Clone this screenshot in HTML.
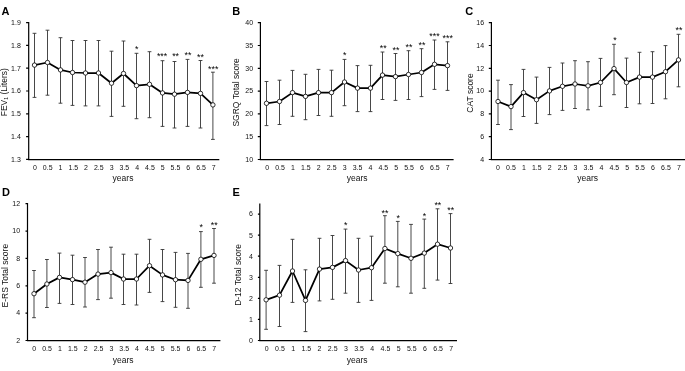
<!DOCTYPE html>
<html><head><meta charset="utf-8"><title>Figure</title>
<style>html,body{margin:0;padding:0;background:#fff;}body{width:685px;height:371px;overflow:hidden;font-family:"Liberation Sans",sans-serif;}svg{display:block;will-change:transform;}</style>
</head><body>
<svg width="685" height="371" viewBox="0 0 685 371" font-family="'Liberation Sans', sans-serif" fill="#111">
<rect width="685" height="371" fill="#fff"/>
<g>
<text x="1.6" y="15.0" font-size="11.0" font-weight="bold" fill="#000">A</text>
<path d="M34.50 33.30V97.40M32.60 33.30H36.40M32.60 97.40H36.40M47.50 30.20V95.20M45.60 30.20H49.40M45.60 95.20H49.40M60.50 37.70V103.20M58.60 37.70H62.40M58.60 103.20H62.40M72.50 40.50V105.40M70.60 40.50H74.40M70.60 105.40H74.40M85.50 40.50V105.90M83.60 40.50H87.40M83.60 105.90H87.40M98.50 40.50V105.90M96.60 40.50H100.40M96.60 105.90H100.40M111.50 51.20V116.40M109.60 51.20H113.40M109.60 116.40H113.40M123.50 41.00V106.30M121.60 41.00H125.40M121.60 106.30H125.40M136.50 53.30V118.70M134.60 53.30H138.40M134.60 118.70H138.40M149.50 51.70V117.70M147.60 51.70H151.40M147.60 117.70H151.40M162.50 60.70V126.40M160.60 60.70H164.40M160.60 126.40H164.40M174.50 61.50V128.00M172.60 61.50H176.40M172.60 128.00H176.40M187.50 59.40V126.40M185.60 59.40H189.40M185.60 126.40H189.40M200.50 60.50V128.00M198.60 60.50H202.40M198.60 128.00H202.40M212.90 72.20V139.40M211.00 72.20H214.80M211.00 139.40H214.80" stroke="#333" stroke-width="0.9" fill="none"/>
<path d="M28.7 22.6V159.55H218.7M26.70 22.6H28.7M26.70 45.4H28.7M26.70 68.2H28.7M26.70 91.0H28.7M26.70 113.8H28.7M26.70 136.6H28.7M26.70 159.4H28.7" stroke="#000" stroke-width="1.2" fill="none" stroke-linecap="square"/>
<polyline points="34.50,65.10 47.50,62.50 60.50,69.90 72.50,72.50 85.50,73.00 98.50,73.00 111.50,83.20 123.50,73.50 136.50,85.60 149.50,84.30 162.50,92.90 174.50,94.20 187.50,92.40 200.50,93.40 212.90,104.90" stroke="#000" stroke-width="1.75" fill="none" stroke-linejoin="round"/>
<circle cx="34.50" cy="65.10" r="2.2" fill="#fff" stroke="#000" stroke-width="0.8"/>
<circle cx="47.50" cy="62.50" r="2.2" fill="#fff" stroke="#000" stroke-width="0.8"/>
<circle cx="60.50" cy="69.90" r="2.2" fill="#fff" stroke="#000" stroke-width="0.8"/>
<circle cx="72.50" cy="72.50" r="2.2" fill="#fff" stroke="#000" stroke-width="0.8"/>
<circle cx="85.50" cy="73.00" r="2.2" fill="#fff" stroke="#000" stroke-width="0.8"/>
<circle cx="98.50" cy="73.00" r="2.2" fill="#fff" stroke="#000" stroke-width="0.8"/>
<circle cx="111.50" cy="83.20" r="2.2" fill="#fff" stroke="#000" stroke-width="0.8"/>
<circle cx="123.50" cy="73.50" r="2.2" fill="#fff" stroke="#000" stroke-width="0.8"/>
<circle cx="136.50" cy="85.60" r="2.2" fill="#fff" stroke="#000" stroke-width="0.8"/>
<circle cx="149.50" cy="84.30" r="2.2" fill="#fff" stroke="#000" stroke-width="0.8"/>
<circle cx="162.50" cy="92.90" r="2.2" fill="#fff" stroke="#000" stroke-width="0.8"/>
<circle cx="174.50" cy="94.20" r="2.2" fill="#fff" stroke="#000" stroke-width="0.8"/>
<circle cx="187.50" cy="92.40" r="2.2" fill="#fff" stroke="#000" stroke-width="0.8"/>
<circle cx="200.50" cy="93.40" r="2.2" fill="#fff" stroke="#000" stroke-width="0.8"/>
<circle cx="212.90" cy="104.90" r="2.2" fill="#fff" stroke="#000" stroke-width="0.8"/>
<g font-size="7.0" text-anchor="end">
<text x="20.80" y="24.95">1.9</text>
<text x="20.80" y="47.75">1.8</text>
<text x="20.80" y="70.55">1.7</text>
<text x="20.80" y="93.35">1.6</text>
<text x="20.80" y="116.15">1.5</text>
<text x="20.80" y="138.95">1.4</text>
<text x="20.80" y="161.75">1.3</text>
</g>
<g font-size="7.0" text-anchor="middle">
<text transform="translate(34.90 169.85) scale(1 1.1)">0</text>
<text transform="translate(47.68 169.85) scale(1 1.1)">0.5</text>
<text transform="translate(60.46 169.85) scale(1 1.1)">1</text>
<text transform="translate(73.24 169.85) scale(1 1.1)">1.5</text>
<text transform="translate(86.02 169.85) scale(1 1.1)">2</text>
<text transform="translate(98.80 169.85) scale(1 1.1)">2.5</text>
<text transform="translate(111.58 169.85) scale(1 1.1)">3</text>
<text transform="translate(124.36 169.85) scale(1 1.1)">3.5</text>
<text transform="translate(137.14 169.85) scale(1 1.1)">4</text>
<text transform="translate(149.92 169.85) scale(1 1.1)">4.5</text>
<text transform="translate(162.70 169.85) scale(1 1.1)">5</text>
<text transform="translate(175.48 169.85) scale(1 1.1)">5.5</text>
<text transform="translate(188.26 169.85) scale(1 1.1)">6</text>
<text transform="translate(201.04 169.85) scale(1 1.1)">6.5</text>
<text transform="translate(213.82 169.85) scale(1 1.1)">7</text>
</g>
<text x="123.00" y="181.05" font-size="8.5" text-anchor="middle">years</text>
<text transform="translate(6.6 92.2) rotate(-90)" font-size="8.5" text-anchor="middle">FEV<tspan dy="1.5" font-size="5">1</tspan><tspan dy="-1.5"> (Liters)</tspan></text>
<g font-size="8.9" text-anchor="middle" fill="#000">
<text x="136.70" y="51.90">*</text>
<text x="162.10" y="59.30">***</text>
<text x="175.60" y="59.30">**</text>
<text x="188.00" y="58.30">**</text>
<text x="200.50" y="60.40">**</text>
<text x="213.20" y="72.40">***</text>
</g>
</g>
<g>
<text x="232.3" y="15.0" font-size="11.0" font-weight="bold" fill="#000">B</text>
<path d="M266.50 81.50V125.60M264.60 81.50H268.40M264.60 125.60H268.40M279.50 80.20V124.50M277.60 80.20H281.40M277.60 124.50H281.40M292.50 70.40V116.30M290.60 70.40H294.40M290.60 116.30H294.40M305.50 74.30V119.70M303.60 74.30H307.40M303.60 119.70H307.40M318.50 69.40V115.50M316.60 69.40H320.40M316.60 115.50H320.40M331.50 70.20V116.30M329.60 70.20H333.40M329.60 116.30H333.40M344.50 59.40V105.70M342.60 59.40H346.40M342.60 105.70H346.40M357.50 65.60V111.60M355.60 65.60H359.40M355.60 111.60H359.40M370.50 65.30V111.60M368.60 65.30H372.40M368.60 111.60H372.40M382.50 52.00V99.50M380.60 52.00H384.40M380.60 99.50H384.40M395.50 53.50V100.40M393.60 53.50H397.40M393.60 100.40H397.40M408.50 50.70V99.50M406.60 50.70H410.40M406.60 99.50H410.40M421.50 48.70V96.60M419.60 48.70H423.40M419.60 96.60H423.40M434.50 40.00V89.40M432.60 40.00H436.40M432.60 89.40H436.40M447.50 41.80V90.40M445.60 41.80H449.40M445.60 90.40H449.40" stroke="#333" stroke-width="0.9" fill="none"/>
<path d="M260.4 22.7V159.6H453.0M258.40 22.7H260.4M258.40 45.5H260.4M258.40 68.3H260.4M258.40 91.1H260.4M258.40 113.9H260.4M258.40 136.7H260.4M258.40 159.5H260.4" stroke="#000" stroke-width="1.2" fill="none" stroke-linecap="square"/>
<polyline points="266.50,103.30 279.50,101.50 292.50,92.60 305.50,96.40 318.50,92.60 331.50,92.60 344.50,82.00 357.50,88.10 370.50,88.10 382.50,75.10 395.50,76.60 408.50,74.50 421.50,72.50 434.50,64.30 447.50,65.60" stroke="#000" stroke-width="1.75" fill="none" stroke-linejoin="round"/>
<circle cx="266.50" cy="103.30" r="2.2" fill="#fff" stroke="#000" stroke-width="0.8"/>
<circle cx="279.50" cy="101.50" r="2.2" fill="#fff" stroke="#000" stroke-width="0.8"/>
<circle cx="292.50" cy="92.60" r="2.2" fill="#fff" stroke="#000" stroke-width="0.8"/>
<circle cx="305.50" cy="96.40" r="2.2" fill="#fff" stroke="#000" stroke-width="0.8"/>
<circle cx="318.50" cy="92.60" r="2.2" fill="#fff" stroke="#000" stroke-width="0.8"/>
<circle cx="331.50" cy="92.60" r="2.2" fill="#fff" stroke="#000" stroke-width="0.8"/>
<circle cx="344.50" cy="82.00" r="2.2" fill="#fff" stroke="#000" stroke-width="0.8"/>
<circle cx="357.50" cy="88.10" r="2.2" fill="#fff" stroke="#000" stroke-width="0.8"/>
<circle cx="370.50" cy="88.10" r="2.2" fill="#fff" stroke="#000" stroke-width="0.8"/>
<circle cx="382.50" cy="75.10" r="2.2" fill="#fff" stroke="#000" stroke-width="0.8"/>
<circle cx="395.50" cy="76.60" r="2.2" fill="#fff" stroke="#000" stroke-width="0.8"/>
<circle cx="408.50" cy="74.50" r="2.2" fill="#fff" stroke="#000" stroke-width="0.8"/>
<circle cx="421.50" cy="72.50" r="2.2" fill="#fff" stroke="#000" stroke-width="0.8"/>
<circle cx="434.50" cy="64.30" r="2.2" fill="#fff" stroke="#000" stroke-width="0.8"/>
<circle cx="447.50" cy="65.60" r="2.2" fill="#fff" stroke="#000" stroke-width="0.8"/>
<g font-size="7.0" text-anchor="end">
<text x="253.10" y="25.05">40</text>
<text x="253.10" y="47.85">35</text>
<text x="253.10" y="70.65">30</text>
<text x="253.10" y="93.45">25</text>
<text x="253.10" y="116.25">20</text>
<text x="253.10" y="139.05">15</text>
<text x="253.10" y="161.85">10</text>
</g>
<g font-size="7.0" text-anchor="middle">
<text transform="translate(267.20 169.90) scale(1 1.1)">0</text>
<text transform="translate(280.10 169.90) scale(1 1.1)">0.5</text>
<text transform="translate(293.00 169.90) scale(1 1.1)">1</text>
<text transform="translate(305.90 169.90) scale(1 1.1)">1.5</text>
<text transform="translate(318.80 169.90) scale(1 1.1)">2</text>
<text transform="translate(331.70 169.90) scale(1 1.1)">2.5</text>
<text transform="translate(344.60 169.90) scale(1 1.1)">3</text>
<text transform="translate(357.50 169.90) scale(1 1.1)">3.5</text>
<text transform="translate(370.40 169.90) scale(1 1.1)">4</text>
<text transform="translate(383.30 169.90) scale(1 1.1)">4.5</text>
<text transform="translate(396.20 169.90) scale(1 1.1)">5</text>
<text transform="translate(409.10 169.90) scale(1 1.1)">5.5</text>
<text transform="translate(422.00 169.90) scale(1 1.1)">6</text>
<text transform="translate(434.90 169.90) scale(1 1.1)">6.5</text>
<text transform="translate(447.80 169.90) scale(1 1.1)">7</text>
</g>
<text x="357.15" y="181.10" font-size="8.5" text-anchor="middle">years</text>
<text transform="translate(238.6 92.4) rotate(-90)" font-size="8.5" text-anchor="middle">SGRQ Total score</text>
<g font-size="8.9" text-anchor="middle" fill="#000">
<text x="344.80" y="58.30">*</text>
<text x="383.25" y="51.10">**</text>
<text x="395.90" y="52.70">**</text>
<text x="409.00" y="50.40">**</text>
<text x="422.00" y="47.50">**</text>
<text x="434.50" y="39.10">***</text>
<text x="447.70" y="41.10">***</text>
</g>
</g>
<g>
<text x="465.3" y="15.0" font-size="11.0" font-weight="bold" fill="#000">C</text>
<path d="M498.00 80.20V124.50M496.10 80.20H499.90M496.10 124.50H499.90M511.00 84.60V129.60M509.10 84.60H512.90M509.10 129.60H512.90M523.50 69.40V116.50M521.60 69.40H525.40M521.60 116.50H525.40M536.50 77.10V123.40M534.60 77.10H538.40M534.60 123.40H538.40M549.50 67.40V114.60M547.60 67.40H551.40M547.60 114.60H551.40M562.50 63.00V110.40M560.60 63.00H564.40M560.60 110.40H564.40M575.00 60.70V108.50M573.10 60.70H576.90M573.10 108.50H576.90M588.00 61.70V109.80M586.10 61.70H589.90M586.10 109.80H589.90M600.50 58.40V106.40M598.60 58.40H602.40M598.60 106.40H602.40M614.00 44.30V94.70M612.10 44.30H615.90M612.10 94.70H615.90M626.50 58.10V107.50M624.60 58.10H628.40M624.60 107.50H628.40M639.50 52.30V103.80M637.60 52.30H641.40M637.60 103.80H641.40M652.50 51.70V103.50M650.60 51.70H654.40M650.60 103.50H654.40M665.50 45.60V98.80M663.60 45.60H667.40M663.60 98.80H667.40M678.50 34.30V86.80M676.60 34.30H680.40M676.60 86.80H680.40" stroke="#333" stroke-width="0.9" fill="none"/>
<path d="M491.4 22.7V159.6H685M489.40 22.7H491.4M489.40 45.5H491.4M489.40 68.3H491.4M489.40 91.1H491.4M489.40 113.9H491.4M489.40 136.7H491.4M489.40 159.5H491.4" stroke="#000" stroke-width="1.2" fill="none" stroke-linecap="square"/>
<polyline points="498.00,101.50 511.00,106.60 523.50,92.60 536.50,99.70 549.50,90.90 562.50,86.30 575.00,84.00 588.00,85.80 600.50,82.50 614.00,68.60 626.50,82.50 639.50,77.10 652.50,77.10 665.50,71.70 678.50,59.90" stroke="#000" stroke-width="1.75" fill="none" stroke-linejoin="round"/>
<circle cx="498.00" cy="101.50" r="2.2" fill="#fff" stroke="#000" stroke-width="0.8"/>
<circle cx="511.00" cy="106.60" r="2.2" fill="#fff" stroke="#000" stroke-width="0.8"/>
<circle cx="523.50" cy="92.60" r="2.2" fill="#fff" stroke="#000" stroke-width="0.8"/>
<circle cx="536.50" cy="99.70" r="2.2" fill="#fff" stroke="#000" stroke-width="0.8"/>
<circle cx="549.50" cy="90.90" r="2.2" fill="#fff" stroke="#000" stroke-width="0.8"/>
<circle cx="562.50" cy="86.30" r="2.2" fill="#fff" stroke="#000" stroke-width="0.8"/>
<circle cx="575.00" cy="84.00" r="2.2" fill="#fff" stroke="#000" stroke-width="0.8"/>
<circle cx="588.00" cy="85.80" r="2.2" fill="#fff" stroke="#000" stroke-width="0.8"/>
<circle cx="600.50" cy="82.50" r="2.2" fill="#fff" stroke="#000" stroke-width="0.8"/>
<circle cx="614.00" cy="68.60" r="2.2" fill="#fff" stroke="#000" stroke-width="0.8"/>
<circle cx="626.50" cy="82.50" r="2.2" fill="#fff" stroke="#000" stroke-width="0.8"/>
<circle cx="639.50" cy="77.10" r="2.2" fill="#fff" stroke="#000" stroke-width="0.8"/>
<circle cx="652.50" cy="77.10" r="2.2" fill="#fff" stroke="#000" stroke-width="0.8"/>
<circle cx="665.50" cy="71.70" r="2.2" fill="#fff" stroke="#000" stroke-width="0.8"/>
<circle cx="678.50" cy="59.90" r="2.2" fill="#fff" stroke="#000" stroke-width="0.8"/>
<g font-size="7.0" text-anchor="end">
<text x="484.10" y="25.05">16</text>
<text x="484.10" y="47.85">14</text>
<text x="484.10" y="70.65">12</text>
<text x="484.10" y="93.45">10</text>
<text x="484.10" y="116.25">8</text>
<text x="484.10" y="139.05">6</text>
<text x="484.10" y="161.85">4</text>
</g>
<g font-size="7.0" text-anchor="middle">
<text transform="translate(498.00 169.90) scale(1 1.1)">0</text>
<text transform="translate(510.92 169.90) scale(1 1.1)">0.5</text>
<text transform="translate(523.84 169.90) scale(1 1.1)">1</text>
<text transform="translate(536.76 169.90) scale(1 1.1)">1.5</text>
<text transform="translate(549.68 169.90) scale(1 1.1)">2</text>
<text transform="translate(562.60 169.90) scale(1 1.1)">2.5</text>
<text transform="translate(575.52 169.90) scale(1 1.1)">3</text>
<text transform="translate(588.44 169.90) scale(1 1.1)">3.5</text>
<text transform="translate(601.36 169.90) scale(1 1.1)">4</text>
<text transform="translate(614.28 169.90) scale(1 1.1)">4.5</text>
<text transform="translate(627.20 169.90) scale(1 1.1)">5</text>
<text transform="translate(640.12 169.90) scale(1 1.1)">5.5</text>
<text transform="translate(653.04 169.90) scale(1 1.1)">6</text>
<text transform="translate(665.96 169.90) scale(1 1.1)">6.5</text>
<text transform="translate(678.88 169.90) scale(1 1.1)">7</text>
</g>
<text x="587.60" y="181.10" font-size="8.5" text-anchor="middle">years</text>
<text transform="translate(472.5 93.0) rotate(-90)" font-size="8.5" text-anchor="middle">CAT score</text>
<g font-size="8.9" text-anchor="middle" fill="#000">
<text x="614.90" y="43.00">*</text>
<text x="678.90" y="32.90">**</text>
</g>
</g>
<g>
<text x="1.9" y="196.3" font-size="11.0" font-weight="bold" fill="#000">D</text>
<path d="M34.00 270.50V317.70M32.10 270.50H35.90M32.10 317.70H35.90M46.90 259.50V307.50M45.00 259.50H48.80M45.00 307.50H48.80M59.50 253.10V303.40M57.60 253.10H61.40M57.60 303.40H61.40M72.50 255.20V304.50M70.60 255.20H74.40M70.60 304.50H74.40M85.00 257.50V307.00M83.10 257.50H86.90M83.10 307.00H86.90M98.00 249.50V299.60M96.10 249.50H99.90M96.10 299.60H99.90M111.00 247.20V298.20M109.10 247.20H112.90M109.10 298.20H112.90M123.50 254.20V304.50M121.60 254.20H125.40M121.60 304.50H125.40M136.50 254.20V305.00M134.60 254.20H138.40M134.60 305.00H138.40M149.50 239.30V292.40M147.60 239.30H151.40M147.60 292.40H151.40M162.50 249.50V301.60M160.60 249.50H164.40M160.60 301.60H164.40M175.50 252.40V307.30M173.60 252.40H177.40M173.60 307.30H177.40M188.00 253.40V308.30M186.10 253.40H189.90M186.10 308.30H189.90M200.90 231.60V287.30M199.00 231.60H202.80M199.00 287.30H202.80M214.00 228.50V283.20M212.10 228.50H215.90M212.10 283.20H215.90" stroke="#333" stroke-width="0.9" fill="none"/>
<path d="M27.5 203.6V340.7H219.8M26.10 203.7H27.5M26.10 231.1H27.5M26.10 258.4H27.5M26.10 285.8H27.5M26.10 313.1H27.5M26.10 340.5H27.5" stroke="#000" stroke-width="1.2" fill="none" stroke-linecap="square"/>
<polyline points="34.00,293.70 46.90,284.00 59.50,277.40 72.50,279.60 85.00,282.20 98.00,274.10 111.00,272.60 123.50,279.00 136.50,279.00 149.50,265.70 162.50,274.90 175.50,279.70 188.00,280.40 200.90,259.30 214.00,255.40" stroke="#000" stroke-width="1.75" fill="none" stroke-linejoin="round"/>
<circle cx="34.00" cy="293.70" r="2.2" fill="#fff" stroke="#000" stroke-width="0.8"/>
<circle cx="46.90" cy="284.00" r="2.2" fill="#fff" stroke="#000" stroke-width="0.8"/>
<circle cx="59.50" cy="277.40" r="2.2" fill="#fff" stroke="#000" stroke-width="0.8"/>
<circle cx="72.50" cy="279.60" r="2.2" fill="#fff" stroke="#000" stroke-width="0.8"/>
<circle cx="85.00" cy="282.20" r="2.2" fill="#fff" stroke="#000" stroke-width="0.8"/>
<circle cx="98.00" cy="274.10" r="2.2" fill="#fff" stroke="#000" stroke-width="0.8"/>
<circle cx="111.00" cy="272.60" r="2.2" fill="#fff" stroke="#000" stroke-width="0.8"/>
<circle cx="123.50" cy="279.00" r="2.2" fill="#fff" stroke="#000" stroke-width="0.8"/>
<circle cx="136.50" cy="279.00" r="2.2" fill="#fff" stroke="#000" stroke-width="0.8"/>
<circle cx="149.50" cy="265.70" r="2.2" fill="#fff" stroke="#000" stroke-width="0.8"/>
<circle cx="162.50" cy="274.90" r="2.2" fill="#fff" stroke="#000" stroke-width="0.8"/>
<circle cx="175.50" cy="279.70" r="2.2" fill="#fff" stroke="#000" stroke-width="0.8"/>
<circle cx="188.00" cy="280.40" r="2.2" fill="#fff" stroke="#000" stroke-width="0.8"/>
<circle cx="200.90" cy="259.30" r="2.2" fill="#fff" stroke="#000" stroke-width="0.8"/>
<circle cx="214.00" cy="255.40" r="2.2" fill="#fff" stroke="#000" stroke-width="0.8"/>
<g font-size="7.0" text-anchor="end">
<text x="20.10" y="206.05">12</text>
<text x="20.10" y="233.45">10</text>
<text x="20.10" y="260.75">8</text>
<text x="20.10" y="288.15">6</text>
<text x="20.10" y="315.45">4</text>
<text x="20.10" y="342.85">2</text>
</g>
<g font-size="7.0" text-anchor="middle">
<text transform="translate(34.25 351.00) scale(1 1.1)">0</text>
<text transform="translate(47.10 351.00) scale(1 1.1)">0.5</text>
<text transform="translate(59.95 351.00) scale(1 1.1)">1</text>
<text transform="translate(72.80 351.00) scale(1 1.1)">1.5</text>
<text transform="translate(85.65 351.00) scale(1 1.1)">2</text>
<text transform="translate(98.50 351.00) scale(1 1.1)">2.5</text>
<text transform="translate(111.35 351.00) scale(1 1.1)">3</text>
<text transform="translate(124.20 351.00) scale(1 1.1)">3.5</text>
<text transform="translate(137.05 351.00) scale(1 1.1)">4</text>
<text transform="translate(149.90 351.00) scale(1 1.1)">4.5</text>
<text transform="translate(162.75 351.00) scale(1 1.1)">5</text>
<text transform="translate(175.60 351.00) scale(1 1.1)">5.5</text>
<text transform="translate(188.45 351.00) scale(1 1.1)">6</text>
<text transform="translate(201.30 351.00) scale(1 1.1)">6.5</text>
<text transform="translate(214.15 351.00) scale(1 1.1)">7</text>
</g>
<text x="123.10" y="362.70" font-size="8.5" text-anchor="middle">years</text>
<text transform="translate(7.8 275.7) rotate(-90)" font-size="8.5" text-anchor="middle">E-RS Total score</text>
<g font-size="8.9" text-anchor="middle" fill="#000">
<text x="201.20" y="230.00">*</text>
<text x="214.30" y="228.20">**</text>
</g>
</g>
<g>
<text x="232.5" y="196.4" font-size="11.0" font-weight="bold" fill="#000">E</text>
<path d="M266.10 270.30V329.30M264.20 270.30H268.00M264.20 329.30H268.00M279.50 265.40V326.50M277.60 265.40H281.40M277.60 326.50H281.40M292.50 239.30V302.40M290.60 239.30H294.40M290.60 302.40H294.40M305.50 269.80V331.60M303.60 269.80H307.40M303.60 331.60H307.40M319.50 238.30V300.90M317.60 238.30H321.40M317.60 300.90H321.40M332.50 235.50V299.30M330.60 235.50H334.40M330.60 299.30H334.40M345.50 229.10V293.20M343.60 229.10H347.40M343.60 293.20H347.40M358.50 238.30V302.40M356.60 238.30H360.40M356.60 302.40H360.40M371.50 236.20V300.40M369.60 236.20H373.40M369.60 300.40H373.40M384.90 215.70V283.20M383.00 215.70H386.80M383.00 283.20H386.80M397.80 221.40V286.80M395.90 221.40H399.70M395.90 286.80H399.70M411.00 224.40V293.20M409.10 224.40H412.90M409.10 293.20H412.90M424.30 219.10V288.30M422.40 219.10H426.20M422.40 288.30H426.20M437.50 208.80V280.10M435.60 208.80H439.40M435.60 280.10H439.40M450.50 213.60V283.50M448.60 213.60H452.40M448.60 283.50H452.40" stroke="#333" stroke-width="0.9" fill="none"/>
<path d="M259.8 204.0V340.7H456.4M258.50 214.1H259.8M258.50 235.2H259.8M258.50 256.2H259.8M258.50 277.3H259.8M258.50 298.4H259.8M258.50 319.4H259.8M258.50 340.5H259.8" stroke="#000" stroke-width="1.2" fill="none" stroke-linecap="square"/>
<polyline points="266.10,299.80 279.50,295.20 292.50,271.00 305.50,300.40 319.50,269.10 332.50,267.40 345.50,260.60 358.50,270.00 371.50,267.70 384.90,248.50 397.80,253.60 411.00,258.30 424.30,253.10 437.50,244.20 450.50,248.00" stroke="#000" stroke-width="1.75" fill="none" stroke-linejoin="round"/>
<circle cx="266.10" cy="299.80" r="2.2" fill="#fff" stroke="#000" stroke-width="0.8"/>
<circle cx="279.50" cy="295.20" r="2.2" fill="#fff" stroke="#000" stroke-width="0.8"/>
<circle cx="292.50" cy="271.00" r="2.2" fill="#fff" stroke="#000" stroke-width="0.8"/>
<circle cx="305.50" cy="300.40" r="2.2" fill="#fff" stroke="#000" stroke-width="0.8"/>
<circle cx="319.50" cy="269.10" r="2.2" fill="#fff" stroke="#000" stroke-width="0.8"/>
<circle cx="332.50" cy="267.40" r="2.2" fill="#fff" stroke="#000" stroke-width="0.8"/>
<circle cx="345.50" cy="260.60" r="2.2" fill="#fff" stroke="#000" stroke-width="0.8"/>
<circle cx="358.50" cy="270.00" r="2.2" fill="#fff" stroke="#000" stroke-width="0.8"/>
<circle cx="371.50" cy="267.70" r="2.2" fill="#fff" stroke="#000" stroke-width="0.8"/>
<circle cx="384.90" cy="248.50" r="2.2" fill="#fff" stroke="#000" stroke-width="0.8"/>
<circle cx="397.80" cy="253.60" r="2.2" fill="#fff" stroke="#000" stroke-width="0.8"/>
<circle cx="411.00" cy="258.30" r="2.2" fill="#fff" stroke="#000" stroke-width="0.8"/>
<circle cx="424.30" cy="253.10" r="2.2" fill="#fff" stroke="#000" stroke-width="0.8"/>
<circle cx="437.50" cy="244.20" r="2.2" fill="#fff" stroke="#000" stroke-width="0.8"/>
<circle cx="450.50" cy="248.00" r="2.2" fill="#fff" stroke="#000" stroke-width="0.8"/>
<g font-size="7.0" text-anchor="end">
<text x="252.90" y="216.45">6</text>
<text x="252.90" y="237.55">5</text>
<text x="252.90" y="258.55">4</text>
<text x="252.90" y="279.65">3</text>
<text x="252.90" y="300.75">2</text>
<text x="252.90" y="321.75">1</text>
<text x="252.90" y="342.85">0</text>
</g>
<g font-size="7.0" text-anchor="middle">
<text transform="translate(266.80 351.00) scale(1 1.1)">0</text>
<text transform="translate(279.98 351.00) scale(1 1.1)">0.5</text>
<text transform="translate(293.16 351.00) scale(1 1.1)">1</text>
<text transform="translate(306.34 351.00) scale(1 1.1)">1.5</text>
<text transform="translate(319.52 351.00) scale(1 1.1)">2</text>
<text transform="translate(332.70 351.00) scale(1 1.1)">2.5</text>
<text transform="translate(345.88 351.00) scale(1 1.1)">3</text>
<text transform="translate(359.06 351.00) scale(1 1.1)">3.5</text>
<text transform="translate(372.24 351.00) scale(1 1.1)">4</text>
<text transform="translate(385.42 351.00) scale(1 1.1)">4.5</text>
<text transform="translate(398.60 351.00) scale(1 1.1)">5</text>
<text transform="translate(411.78 351.00) scale(1 1.1)">5.5</text>
<text transform="translate(424.96 351.00) scale(1 1.1)">6</text>
<text transform="translate(438.14 351.00) scale(1 1.1)">6.5</text>
<text transform="translate(451.32 351.00) scale(1 1.1)">7</text>
</g>
<text x="357.10" y="363.20" font-size="8.5" text-anchor="middle">years</text>
<text transform="translate(241.3 275.0) rotate(-90)" font-size="8.5" text-anchor="middle">D-12 Total score</text>
<g font-size="8.9" text-anchor="middle" fill="#000">
<text x="345.80" y="227.90">*</text>
<text x="384.90" y="215.50">**</text>
<text x="398.20" y="220.80">*</text>
<text x="424.60" y="218.50">*</text>
<text x="437.85" y="207.70">**</text>
<text x="450.70" y="213.30">**</text>
</g>
</g>
</svg>
</body></html>
